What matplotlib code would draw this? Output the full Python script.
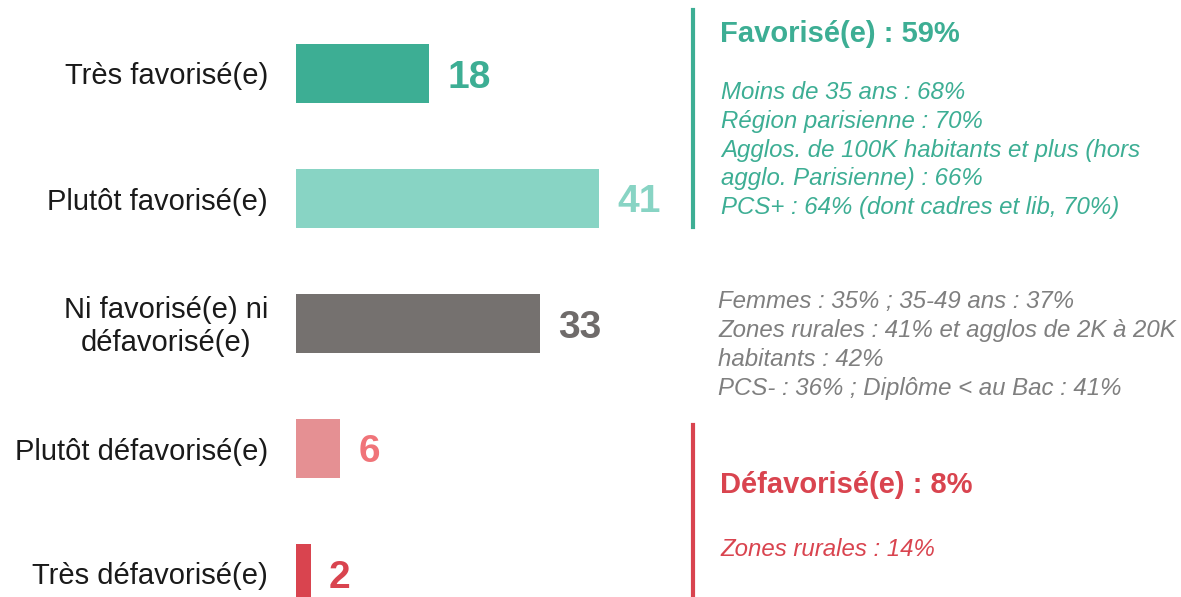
import matplotlib.pyplot as plt
from matplotlib.lines import Line2D

plt.rcParams['font.family'] = ['Liberation Sans', 'DejaVu Sans']

# Data
categories = ['Très favorisé(e)', 'Plutôt favorisé(e)', 'Ni favorisé(e) ni\ndéfavorisé(e)',
              'Plutôt défavorisé(e)', 'Très défavorisé(e)']
values = [18, 41, 33, 6, 2]
bar_colors = ['#3dae94', '#88d4c4', '#75716f', '#e59093', '#d9444f']
value_colors = ['#3dae94', '#88d4c4', '#6f6b6a', '#f07479', '#d9444f']

fav_title = 'Favorisé(e) : 59%'
fav_lines = ['Moins de 35 ans : 68%',
             'Région parisienne : 70%',
             'Agglos. de 100K habitants et plus (hors',
             'agglo. Parisienne) : 66%',
             'PCS+ : 64% (dont cadres et lib, 70%)']
neutral_lines = ['Femmes : 35% ; 35-49 ans : 37%',
                 'Zones rurales : 41% et agglos de 2K à 20K',
                 'habitants : 42%',
                 'PCS- : 36% ; Diplôme < au Bac : 41%']
defav_title = 'Défavorisé(e) : 8%'
defav_lines = ['Zones rurales : 14%']

TEAL = '#3dae94'
GREY = '#7f7f7f'
RED = '#d9444f'

W, H = 1181, 597
fig = plt.figure(figsize=(W / 100, H / 100), dpi=100)


def fx(px):
    return px / W


def fy(py):
    return 1 - py / H


# bars: x=0 at pixel 296, 7.4 px per point; rows 125 px apart, first at 73.5
ax = fig.add_axes([0, 0, 1, 1])
x0, scale, row = 296, 7.4, 125
ax.set_xlim(-x0 / scale, (W - x0) / scale)
ax.set_ylim((H - 73.5) / row, -73.5 / row)
ax.axis('off')

ypos = list(range(len(values)))
ax.barh(ypos, values, height=0.47, color=bar_colors)
for y, v, c in zip(ypos, values, value_colors):
    ax.text(v + 18 / scale, y, str(v), color=c, fontsize=28, fontweight='bold',
            ha='left', va='center_baseline')
for y, lab in zip(ypos, categories):
    if '\n' in lab:
        ax.text(-28 / scale, y + 3 / row, lab, color='#1a1a1a', fontsize=21,
                ha='right', va='center', multialignment='center', linespacing=1.2)
    else:
        ax.text(-28 / scale, y, lab, color='#1a1a1a', fontsize=21,
                ha='right', va='center_baseline')

# side annotations
fig.add_artist(Line2D([fx(693), fx(693)], [fy(10), fy(227)], color=TEAL, lw=3))
fig.add_artist(Line2D([fx(693), fx(693)], [fy(425), fy(597)], color=RED, lw=3))

fig.text(fx(720), fy(31), fav_title, color=TEAL, fontsize=21, fontweight='bold',
         ha='left', va='center_baseline')
fig.text(fx(721), fy(150), '\n'.join(fav_lines), color=TEAL, fontsize=17.3,
         style='italic', ha='left', va='center', linespacing=1.33)
fig.text(fx(718), fy(345), '\n'.join(neutral_lines), color=GREY, fontsize=17.3,
         style='italic', ha='left', va='center', linespacing=1.33)
fig.text(fx(720), fy(482), defav_title, color=RED, fontsize=21, fontweight='bold',
         ha='left', va='center_baseline')
fig.text(fx(720), fy(547), '\n'.join(defav_lines), color=RED, fontsize=17.3,
         style='italic', ha='left', va='center_baseline')

fig.savefig('out.png', dpi=100, facecolor='white')
